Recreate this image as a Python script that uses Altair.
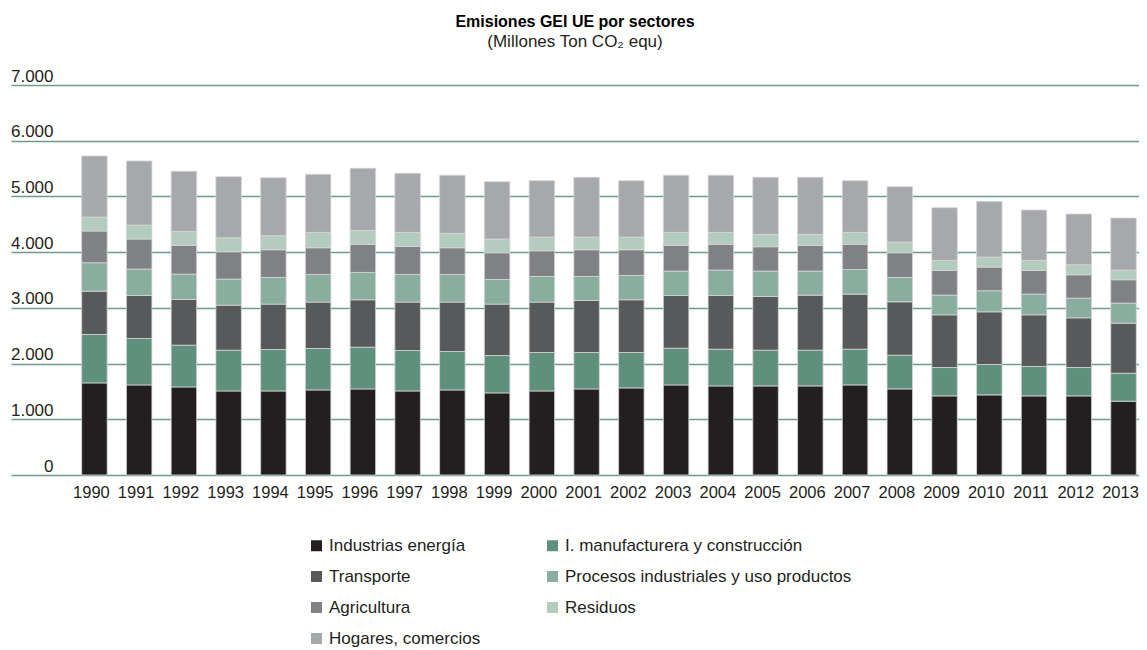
import altair as alt
import pandas as pd

years = [str(y) for y in range(1990, 2014)]

sectors = [
    "Industrias energía",
    "I. manufacturera y construcción",
    "Transporte",
    "Procesos industriales y uso productos",
    "Agricultura",
    "Residuos",
    "Hogares, comercios",
]

colors = ["#231f20", "#5f8f7d", "#58595b", "#89ad9f", "#808184", "#b4cbbf", "#a7a8ab"]

energia = [1653, 1617, 1581, 1509, 1509, 1527, 1545, 1509, 1527, 1474, 1509, 1545,
           1563, 1617, 1599, 1599, 1599, 1617, 1545, 1420, 1438, 1420, 1420, 1324]
manufactura = [869, 833, 749, 731, 743, 743, 749, 725, 689, 670, 689, 653,
               635, 659, 659, 641, 641, 641, 605, 509, 545, 527, 509, 503]
transporte = [778, 773, 821, 809, 815, 833, 851, 869, 887, 923, 905, 935,
              947, 947, 965, 965, 988, 988, 959, 946, 946, 928, 892, 898]
procesos = [510, 473, 455, 467, 479, 497, 491, 497, 497, 443, 461, 431,
            437, 437, 455, 455, 432, 443, 437, 354, 378, 372, 354, 360]
agricultura = [569, 539, 515, 491, 497, 479, 503, 503, 479, 479, 461, 479,
               461, 461, 461, 437, 461, 450, 443, 443, 425, 425, 419, 419]
residuos = [251, 251, 252, 252, 252, 276, 252, 252, 258, 246, 246, 228,
            228, 234, 216, 222, 198, 216, 192, 180, 180, 180, 180, 174]
hogares = [1096, 1151, 1078, 1096, 1042, 1042, 1114, 1060, 1042, 1030, 1012, 1072,
           1012, 1024, 1024, 1024, 1024, 928, 994, 946, 1000, 904, 910, 934]

series = [energia, manufactura, transporte, procesos, agricultura, residuos, hogares]

rows = []
for si, (name, vals) in enumerate(zip(sectors, series)):
    for y, v in zip(years, vals):
        rows.append({"year": y, "sector": name, "value": v, "order": si})
df = pd.DataFrame(rows)

FONT = "Liberation Sans, Arial, sans-serif"
TXT = "#231f20"

chart = alt.Chart(df).mark_bar(stroke="#d6d6d6", strokeWidth=0.8).encode(
    x=alt.X("year:N", sort=years, title=None,
            scale=alt.Scale(paddingInner=0.43, paddingOuter=0.82, align=0.963),
            axis=alt.Axis(labelAngle=0, ticks=False, domain=False, grid=False,
                          labelFont=FONT, labelFontSize=16.5, labelColor=TXT,
                          labelPadding=9, labelOffset=-3)),
    y=alt.Y("sum(value):Q", stack="zero", title=None,
            scale=alt.Scale(domain=[0, 7000], nice=False),
            axis=alt.Axis(values=[0, 1000, 2000, 3000, 4000, 5000, 6000, 7000],
                          labelExpr="replace(format(datum.value, ',d'), ',', '.')",
                          ticks=False, tickSize=0, domain=False, labelPadding=-42,
                          labelAlign="right", labelBaseline="alphabetic",
                          labelOffset=-4,
                          labelFont=FONT, labelFontSize=17, labelColor=TXT,
                          gridColor="#6e9c8b", gridWidth=1.5)),
    color=alt.Color("sector:N", sort=sectors,
                    scale=alt.Scale(domain=sectors, range=colors),
                    legend=alt.Legend(title=None, orient="none", legendX=297, legendY=452,
                                      direction="horizontal",
                                      columns=2, columnPadding=63, rowPadding=13,
                                      symbolType="square", symbolSize=121,
                                      symbolStrokeWidth=0, labelOffset=4,
                                      labelFont=FONT, labelFontSize=17, labelColor=TXT,
                                      labelLimit=400)),
    order=alt.Order("order:Q", sort="ascending"),
).properties(
    width=1128,
    height=390,
    autosize=alt.AutoSizeParams(type="none"),
    padding={"left": 3, "top": 77, "right": 0, "bottom": 175},
    title=alt.TitleParams(
        text="Emisiones GEI UE por sectores",
        subtitle="(Millones Ton CO₂ equ)",
        anchor="middle", frame="group",
        font=FONT, fontSize=16, fontWeight="bold", color="#000000",
        subtitleFont=FONT, subtitleFontSize=17, subtitleColor=TXT,
        subtitlePadding=4, offset=17,
    ),
).configure_view(stroke=None).configure_axis(gridOpacity=1)

chart.save("out.html", embed_options={"renderer": "svg", "actions": False})
